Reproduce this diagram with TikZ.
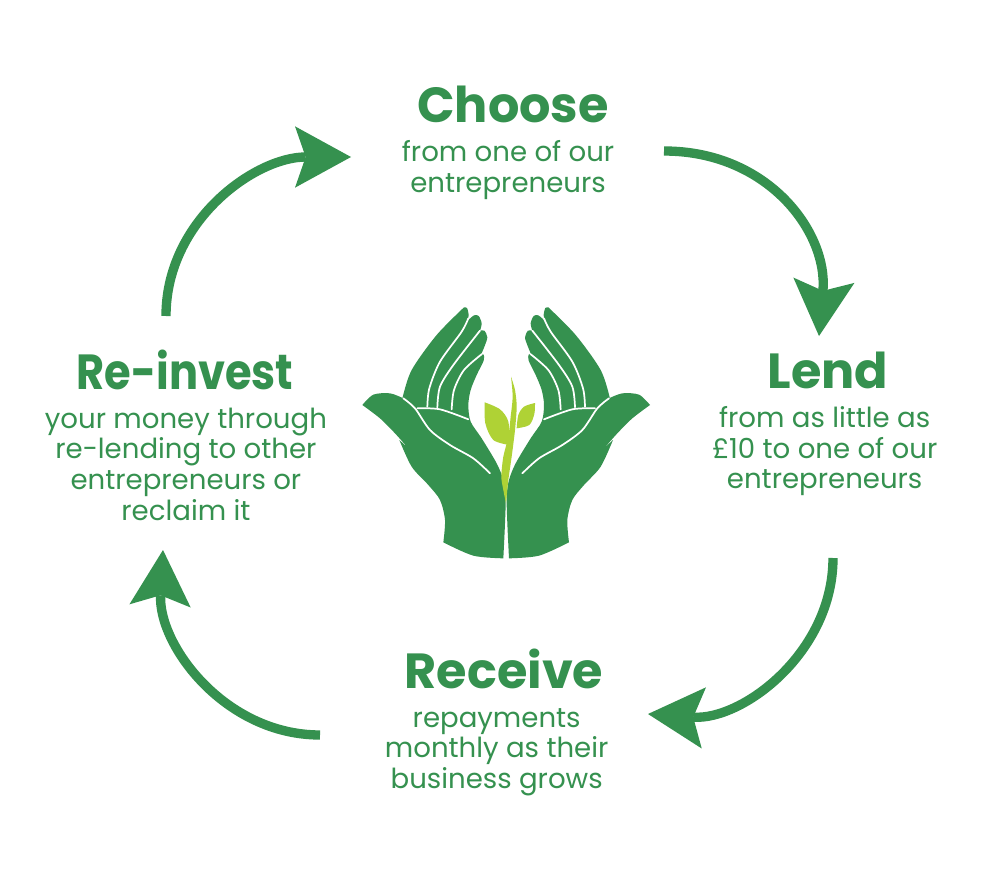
\documentclass[tikz,border=0pt]{standalone}
\usepackage{fontspec}
\usepackage{xcolor}
\usetikzlibrary{positioning, arrows.meta}
\setmainfont{Poppins}
\definecolor{leafgreen}{HTML}{35914F}
\definecolor{sproutgreen}{HTML}{AFD235}
\tikzset{
  steptitle/.style={font=\fontsize{37}{40}\selectfont\bfseries, text=leafgreen, inner sep=0pt},
  steptext/.style={font=\fontsize{20.7}{23}\selectfont, text=leafgreen, align=center, inner sep=0pt},
  cyclearrow/.style={draw=leafgreen, line width=7pt,
    -{Stealth[length=42pt,width=46pt,inset=8pt,line width=0pt]}},
  crease/.style={draw=white, line width=1.3pt, line cap=round}
}
\newcommand{\drawhand}{
\fill[leafgreen] plot[smooth] coordinates {(188,322) (215,240) (290,135) (372,52)}
  -- plot[smooth] coordinates {(372,52) (381,54) (386,75) (383,92)}
  -- plot[smooth] coordinates {(383,92) (402,76) (416,78) (425,100) (420,122)}
  -- plot[smooth] coordinates {(420,122) (433,122) (442,142) (434,168) (424,192)}
  -- plot[smooth] coordinates {(424,192) (431,194) (431,212) (410,255) (392,300) (385,345) (392,395) (425,445) (470,520) (490,570) (497,620) (495,700) (490,805)}
  -- plot[smooth] coordinates {(490,805) (400,797) (310,757)}
  -- plot[smooth] coordinates {(310,757) (315,690) (300,630) (265,585) (215,530) (178,450)}
  -- (205,475)
  -- plot[smooth] coordinates {(205,475) (165,430) (120,385) (67,345)}
  -- plot[smooth] coordinates {(67,345) (100,314) (150,310) (190,325)} -- cycle;
\draw[crease] plot[smooth] coordinates {(190,325) (225,355) (270,420) (330,465) (400,505) (450,550)};
\draw[crease] plot[smooth] coordinates {(232,355) (300,358) (385,388)};
\draw[crease] plot[smooth] coordinates {(262,350) (268,295) (300,215) (365,125) (385,85)};
\draw[crease] plot[smooth] coordinates {(292,352) (300,290) (340,225) (420,122)};
\draw[crease] plot[smooth] coordinates {(335,358) (342,300) (372,240) (426,192)};
}
\begin{document}
\begin{tikzpicture}[x=0.75pt,y=-0.75pt]
\useasboundingbox (0,0) rectangle (1000,881);
\fill[white] (0,0) rectangle (1000,881);
% step labels
\node (choose) at (513,104) [steptitle]{Choose};
\node (choosetext) [steptext, below=13pt of choose, xshift=-3.7pt] {from one of our\\entrepreneurs};
%
\node (lend) at (828,370) [steptitle]{Lend};
\node (lendtext) [steptext, below=13pt of lend, xshift=-2.5pt] {from as little as\\£10 to one of our\\entrepreneurs};
%
\node (receive) at (504,669) [steptitle]{Receive};
\node (receivetext) [steptext, below=14pt of receive, xshift=-5.5pt] {repayments\\monthly as their\\business grows};
%
\node (reinvest) at (185,370) [steptitle]{\scalebox{0.875}[1]{Re-invest}};
\node (reinvesttext) [steptext, below=13pt of reinvest, xshift=0.7pt] {your money through\\re-lending to other\\entrepreneurs or\\reclaim it};
% arrow ends
\coordinate (chooseout) at (664,151);
\coordinate (lendin) at (819,336);
\coordinate (lendout) at (833,558);
\coordinate (receivein) at (648,714);
\coordinate (receiveout) at (320,735);
\coordinate (reinvestin) at (163,550);
\coordinate (reinvestout) at (166,316);
\coordinate (choosein) at (351,157);
\draw[cyclearrow] (chooseout) to[out=0,in=85,looseness=1.1] (lendin);
\draw[cyclearrow] (lendout) to[out=-90,in=-4] (receivein);
\draw[cyclearrow] (receiveout) to[out=180,in=-93] (reinvestin);
\draw[cyclearrow] (reinvestout) to[out=90,in=180] (choosein);
% hands and sprout
\begin{scope}[shift={(340,290)},scale=1/3]
\drawhand
\end{scope}
\begin{scope}[shift={(672.33,290)},xscale=-1/3,yscale=1/3]
\drawhand
\end{scope}
\begin{scope}[shift={(340,290)},scale=1/3]
\fill[sproutgreen] plot[smooth] coordinates {(513,260) (525,300) (530,350) (525,420) (515,500) (505,570) (498,640)}
  -- plot[smooth] coordinates {(498,640) (490,600) (484,560) (490,500) (505,440) (512,380) (518,320) (513,260)} -- cycle;
\fill[sproutgreen] plot[smooth] coordinates {(434,337) (480,358) (505,395) (508,465)}
  -- plot[smooth] coordinates {(508,465) (460,450) (436,400) (434,337)} -- cycle;
\fill[sproutgreen] plot[smooth] coordinates {(585,339) (552,350) (535,375) (530,415)}
  -- plot[smooth] coordinates {(530,415) (568,405) (583,372) (585,339)} -- cycle;
\end{scope}
\end{tikzpicture}
\end{document}
